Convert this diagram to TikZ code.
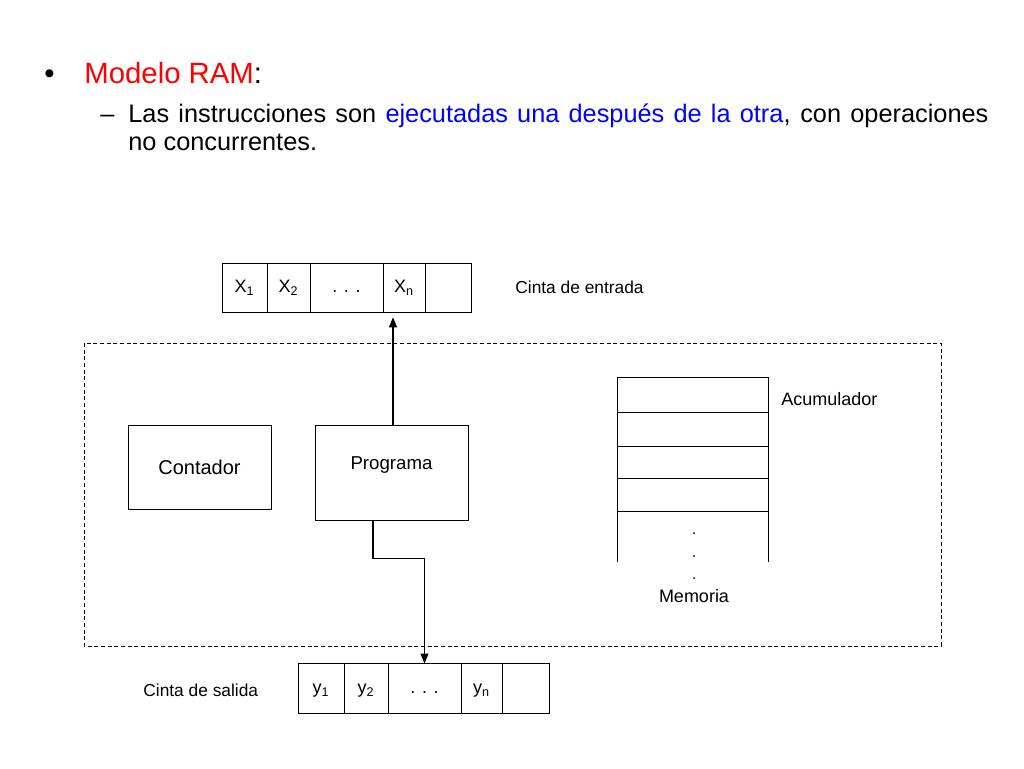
\documentclass[tikz,border=0pt]{standalone}
\usepackage{fontspec}
\setmainfont{Liberation Sans}
\usetikzlibrary{positioning,arrows.meta}
\newdimen\pxu
\pxu=0.75pt

\begin{document}
\begin{tikzpicture}[x = 0.75pt, y = -0.75pt, line width = 0.6pt,
    txt/.style = { inner sep = 0pt },
    cell/.style = { draw, outer sep = 0pt, inner sep = 0pt, minimum height = 49\pxu, text height = 10pt, text depth = 3pt, font = \fontsize{13.5}{16}\selectfont },
    memcell/.style = { draw, outer sep = 0pt, minimum width = 151\pxu },
    box/.style = { draw, inner sep = 0pt },
    lbl/.style = { inner sep = 0pt, font = \fontsize{13}{15}\selectfont },
    arr/.style = { line width = 0.8pt, -{Triangle[length = 7.5pt, width = 6pt]} }]
  \useasboundingbox (0,0) rectangle (1024,768);

  \node [txt, anchor = base west, font = \fontsize{22}{26}\selectfont] (bullet) at (44,83) {•};
  \node [txt, anchor = base west, font = \fontsize{22}{26}\selectfont] (title) at (84,83) {\textcolor{red}{Modelo RAM}:};
  \node [txt, anchor = base west, font = \fontsize{19}{23}\selectfont] (dash) at (100,122) {–};
  \node [txt, anchor = base west, font = \fontsize{19}{23}\selectfont] (line1) at (128,122)
    {\makebox[645pt][s]{Las instrucciones son \textcolor{blue}{ejecutadas una después de la otra}, con operaciones}};
  \node [txt, anchor = base west, font = \fontsize{19}{23}\selectfont] (line2) at (128,150) {no concurrentes.};

  \node [cell, minimum width = 45\pxu] (x1) at (244.5,287.5) {X\textsubscript{1}};
  \node [cell, minimum width = 43\pxu, right = 0pt of x1] (x2) {X\textsubscript{2}};
  \node [cell, minimum width = 73\pxu, right = 0pt of x2] (xdots) {. . .};
  \node [cell, minimum width = 42\pxu, right = 0pt of xdots] (xn) {X\textsubscript{n}};
  \node [cell, minimum width = 46\pxu, right = 0pt of xn] (xe) {};
  \node [lbl, anchor = west] (inlbl) at (515,287) {Cinta de entrada};

  \draw [dash pattern = on 3pt off 2pt] (84,343) rectangle (941,646);

  \node [box, minimum width = 143\pxu, minimum height = 84\pxu, font = \fontsize{15}{18}\selectfont] (cont) at (199.5,467) {Contador};
  \node [box, minimum width = 153\pxu, minimum height = 95\pxu, text depth = 13.4pt, font = \fontsize{14}{17}\selectfont] (prog) at (391.5,472.5) {Programa};

  \node [memcell, minimum height = 35\pxu] (mem1) at (692.5,394.5) {};
  \node [memcell, minimum height = 34\pxu, below = 0pt of mem1] (mem2) {};
  \node [memcell, minimum height = 32\pxu, below = 0pt of mem2] (mem3) {};
  \node [memcell, minimum height = 33\pxu, below = 0pt of mem3] (mem4) {};
  \draw (mem4.south west) -- ++(0,51);
  \draw (mem4.south east) -- ++(0,51);
  \foreach \y in {533,556,578}
    \fill (694,\y) circle (1);
  \node [lbl, font = \fontsize{13.5}{16}\selectfont] (memlbl) at (694,596) {Memoria};
  \node [lbl, anchor = west, font = \fontsize{13.5}{16}\selectfont] (acclbl) at (781,399) {Acumulador};

  \node [cell, minimum width = 46\pxu, minimum height = 50\pxu] (y1) at (321,688.5) {y\textsubscript{1}};
  \node [cell, minimum width = 44\pxu, minimum height = 50\pxu, right = 0pt of y1] (y2) {y\textsubscript{2}};
  \node [cell, minimum width = 73\pxu, minimum height = 50\pxu, right = 0pt of y2] (ydots) {. . .};
  \node [cell, minimum width = 41\pxu, minimum height = 50\pxu, right = 0pt of ydots] (yn) {y\textsubscript{n}};
  \node [cell, minimum width = 47\pxu, minimum height = 50\pxu, right = 0pt of yn] (ye) {};
  \node [lbl, anchor = west] (outlbl) at (143,690) {Cinta de salida};

  \draw [arr, shorten > = 4pt] ([xshift = 1.5\pxu]prog.north) -- ([xshift = 1.5\pxu]prog.north |- xn.south);
  \draw [arr] ([xshift = -18.5\pxu]prog.south) -- ++(0,38) -| (ydots.north);
\end{tikzpicture}
\end{document}
